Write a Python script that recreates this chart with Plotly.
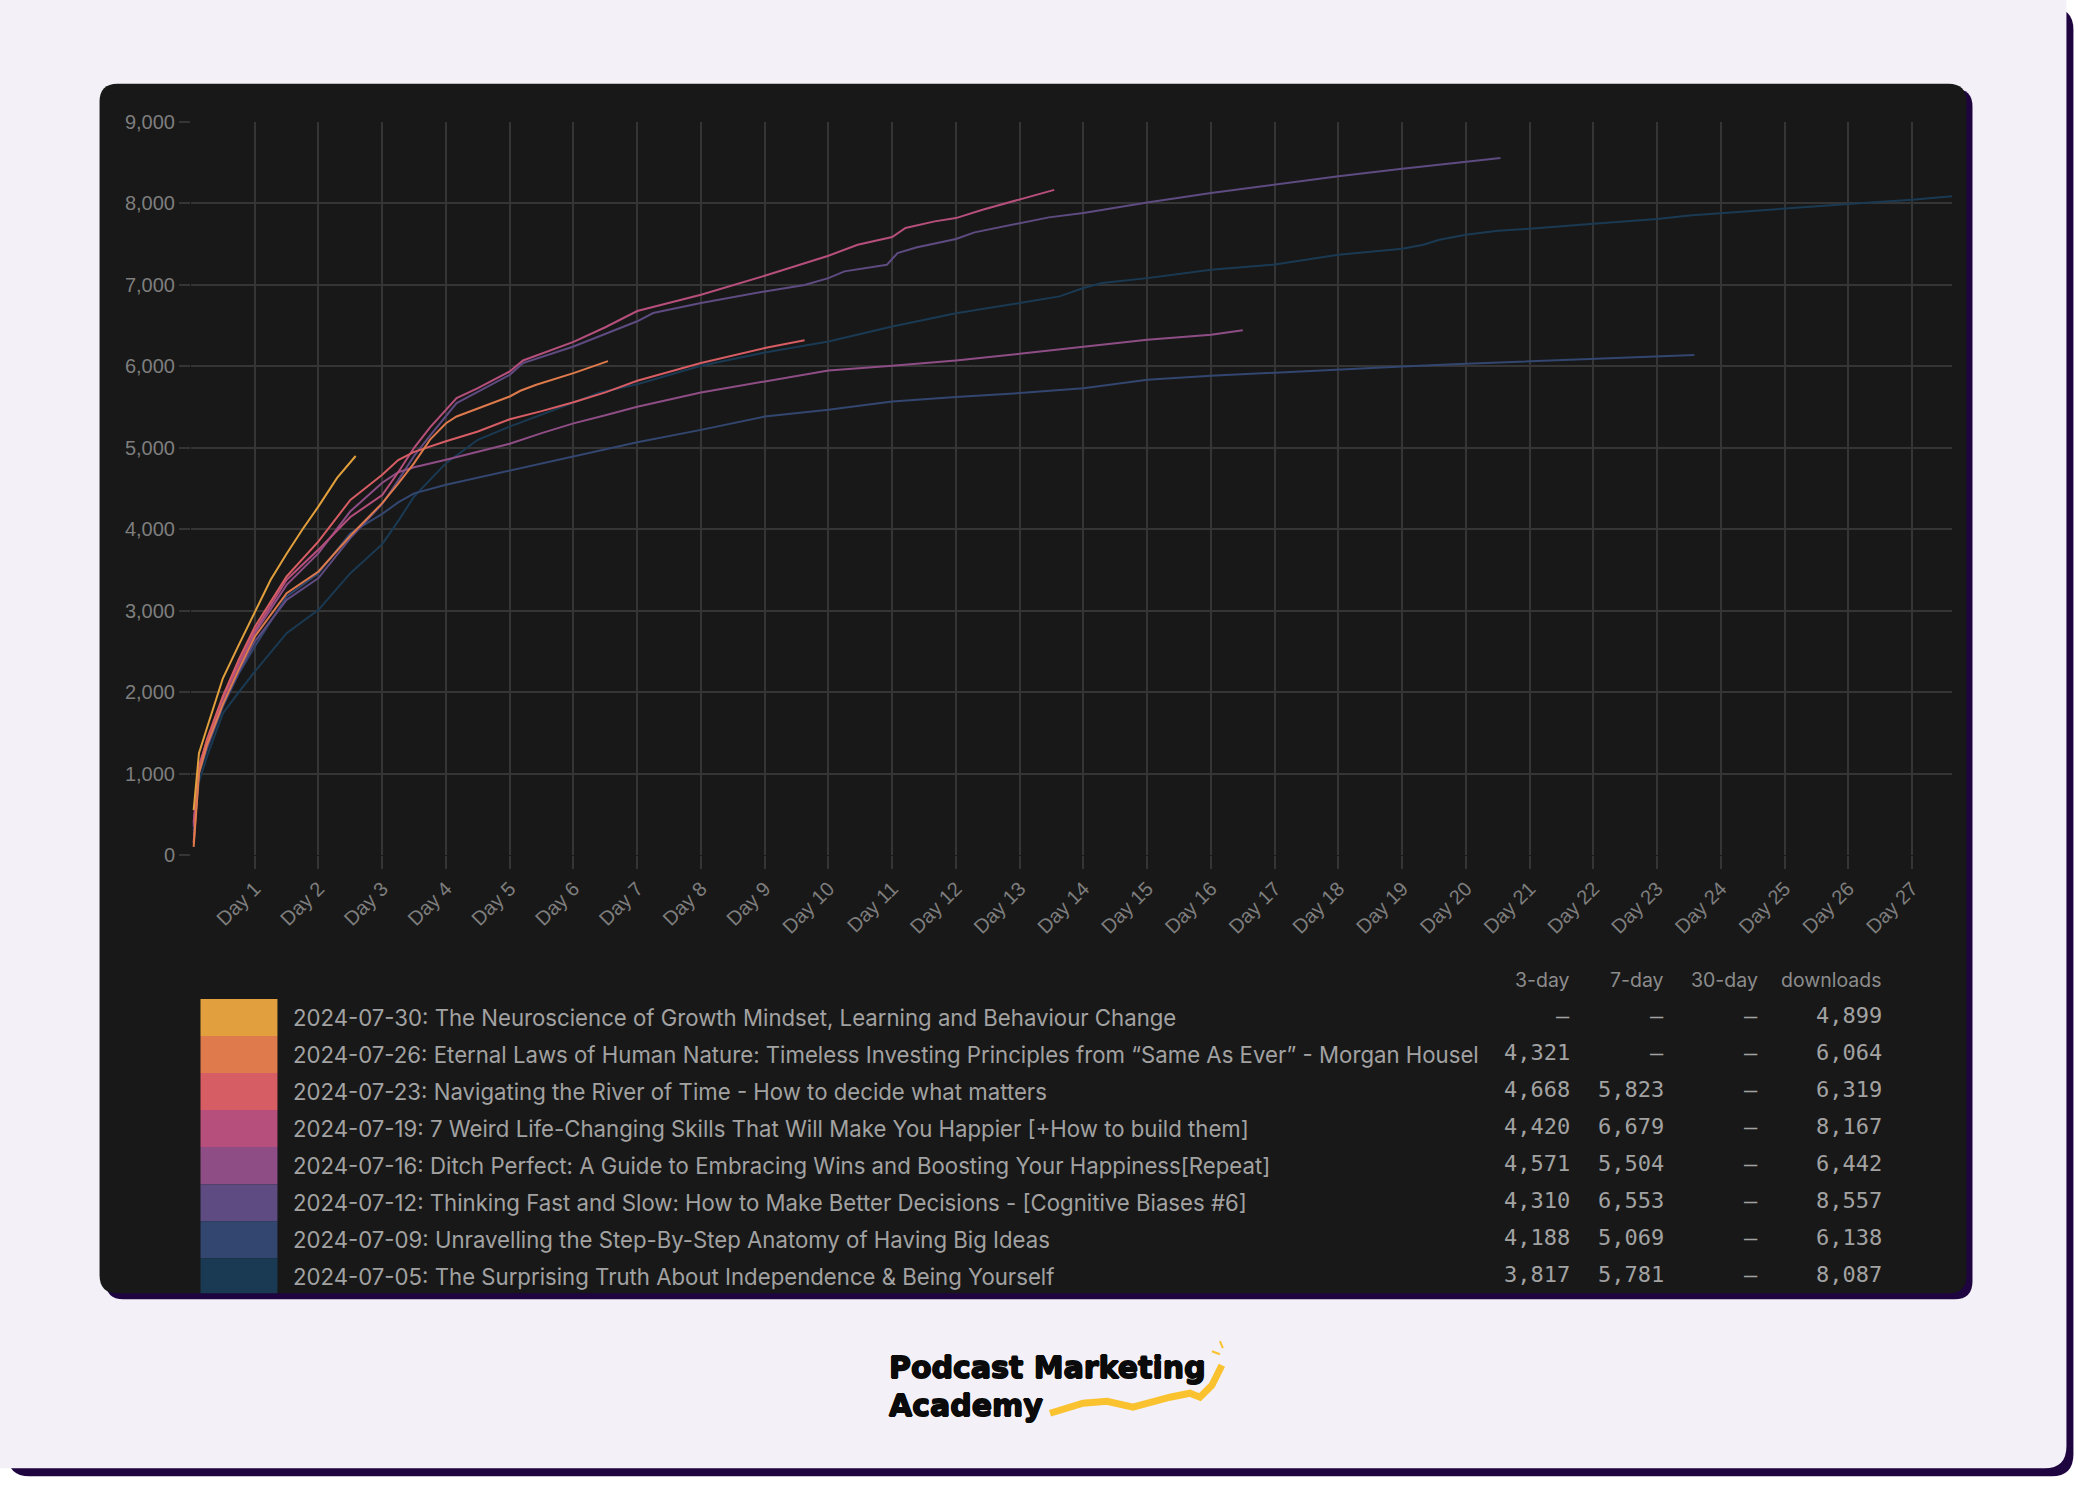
import plotly.graph_objects as go

# ---------------- data ----------------
episode_titles = [
    "2024-07-30: The Neuroscience of Growth Mindset, Learning and Behaviour Change",
    "2024-07-26: Eternal Laws of Human Nature: Timeless Investing Principles from \u201cSame As Ever\u201d - Morgan Housel",
    "2024-07-23: Navigating the River of Time - How to decide what matters",
    "2024-07-19: 7 Weird Life-Changing Skills That Will Make You Happier [+How to build them]",
    "2024-07-16: Ditch Perfect: A Guide to Embracing Wins and Boosting Your Happiness[Repeat]",
    "2024-07-12: Thinking Fast and Slow: How to Make Better Decisions - [Cognitive Biases #6]",
    "2024-07-09: Unravelling the Step-By-Step Anatomy of Having Big Ideas",
    "2024-07-05: The Surprising Truth About Independence & Being Yourself",
]
three_day = [None, 4321, 4668, 4420, 4571, 4310, 4188, 3817]
seven_day = [None, None, 5823, 6679, 5504, 6553, 5069, 5781]
thirty_day = [None, None, None, None, None, None, None, None]
downloads = [4899, 6064, 6319, 8167, 6442, 8557, 6138, 8087]
column_headers = ["3-day", "7-day", "30-day", "downloads"]

hours_0730 = [1, 3, 6, 12, 18, 24, 30, 36, 42, 48, 55, 62]
dl_0730 = [550, 1250, 1560, 2170, 2580, 2990, 3380, 3700, 4000, 4280, 4630, 4899]

hours_0726 = [1, 3, 6, 12, 18, 24, 36, 48, 60, 72, 78, 84, 90, 96, 100, 108, 120, 124, 130, 144, 157]
dl_0726 = [100, 1000, 1350, 1850, 2280, 2680, 3215, 3481, 3920, 4321, 4560, 4811, 5100, 5302, 5384, 5486,
           5630, 5700, 5774, 5917, 6064]

hours_0723 = [1, 3, 6, 12, 18, 24, 36, 48, 60, 72, 78, 84, 96, 108, 120, 132, 144, 156, 168, 192, 216, 231]
dl_0723 = [150, 1050, 1420, 1950, 2400, 2800, 3420, 3850, 4360, 4668, 4850, 4950, 5080, 5200, 5350, 5450,
           5560, 5680, 5823, 6040, 6224, 6319]

hours_0719 = [1, 3, 6, 12, 18, 24, 36, 48, 60, 72, 78, 84, 90, 96, 100, 108, 120, 125, 144, 156, 168, 192,
              216, 240, 251, 264, 269, 280, 288, 298, 312, 325]
dl_0719 = [400, 1100, 1400, 1930, 2350, 2750, 3380, 3750, 4150, 4420, 4700, 5000, 5250, 5466, 5609, 5732,
           5937, 6072, 6300, 6480, 6679, 6879, 7112, 7358, 7493, 7587, 7698, 7780, 7820, 7923, 8046, 8167]

hours_0716 = [1, 3, 6, 12, 18, 24, 36, 48, 60, 72, 78, 84, 96, 108, 120, 132, 144, 156, 168, 192, 216, 240,
              264, 288, 312, 336, 360, 384, 396]
dl_0716 = [350, 1080, 1380, 1900, 2330, 2720, 3317, 3706, 4220, 4571, 4700, 4760, 4852, 4950, 5050, 5180,
           5300, 5400, 5504, 5679, 5814, 5949, 6006, 6072, 6154, 6236, 6326, 6387, 6442]

hours_0712 = [1, 3, 6, 12, 18, 24, 36, 48, 60, 72, 78, 84, 90, 96, 100, 120, 125, 144, 168, 174, 192, 216,
              231, 240, 246, 262, 266, 273, 288, 295, 312, 323, 336, 360, 384, 408, 432, 456, 480, 493]
dl_0712 = [380, 1020, 1320, 1850, 2250, 2620, 3133, 3400, 3890, 4310, 4600, 4900, 5150, 5384, 5548, 5896,
           6040, 6244, 6553, 6654, 6777, 6920, 6998, 7083, 7166, 7247, 7390, 7460, 7563, 7645, 7751, 7829,
           7882, 8013, 8127, 8230, 8335, 8427, 8517, 8557]

hours_0709 = [1, 3, 6, 12, 18, 24, 36, 48, 60, 72, 78, 84, 96, 120, 144, 168, 192, 216, 240, 264, 288, 312,
              336, 360, 384, 408, 432, 456, 480, 504, 528, 552, 566]
dl_0709 = [300, 1000, 1300, 1820, 2230, 2560, 3174, 3460, 3951, 4188, 4330, 4440, 4545, 4721, 4893, 5069,
           5220, 5384, 5466, 5569, 5622, 5672, 5732, 5835, 5884, 5925, 5966, 5998, 6031, 6059, 6088, 6121, 6138]

hours_0705 = [1, 3, 6, 12, 18, 24, 36, 48, 60, 72, 78, 84, 96, 108, 120, 144, 154, 168, 192, 216, 240, 264,
              288, 312, 327, 336, 343, 360, 384, 408, 432, 456, 464, 470, 480, 492, 504, 528, 552, 564, 576,
              600, 624, 648, 663]
dl_0705 = [250, 900, 1207, 1740, 2000, 2252, 2723, 3010, 3460, 3817, 4100, 4402, 4811, 5098, 5260, 5560,
           5679, 5781, 6006, 6170, 6305, 6490, 6653, 6777, 6859, 6961, 7022, 7083, 7186, 7250, 7370, 7444,
           7493, 7555, 7616, 7665, 7690, 7751, 7808, 7853, 7882, 7935, 7992, 8046, 8087]

series_hours = [hours_0730, hours_0726, hours_0723, hours_0719, hours_0716, hours_0712, hours_0709, hours_0705]
series_values = [dl_0730, dl_0726, dl_0723, dl_0719, dl_0716, dl_0712, dl_0709, dl_0705]
series_colors = ["#E1A03D", "#DE7A4B", "#D65D64", "#B64F7B", "#8E4D85", "#5E4B81", "#32466F", "#1A3A53"]

day_tick_hours = [24 * d for d in range(1, 28)]
day_tick_labels = [f"Day {d}" for d in range(1, 28)]
y_ticks = list(range(0, 9001, 1000))

# ---------------- layout geometry (pixels) ----------------
W, H = 2078, 1489
PL, PR, PT, PB = 190.5, 1952.5, 122.3, 855.0
PW, PH = PR - PL, PB - PT


def fx(px):
    return (px - PL) / PW


def fy(py):
    return (PB - py) / PH


def rrect(x0, y0, x1, y1, r):
    pts = [
        f"M{fx(x0 + r)},{fy(y0)}", f"L{fx(x1 - r)},{fy(y0)}", f"Q{fx(x1)},{fy(y0)} {fx(x1)},{fy(y0 + r)}",
        f"L{fx(x1)},{fy(y1 - r)}", f"Q{fx(x1)},{fy(y1)} {fx(x1 - r)},{fy(y1)}",
        f"L{fx(x0 + r)},{fy(y1)}", f"Q{fx(x0)},{fy(y1)} {fx(x0)},{fy(y1 - r)}",
        f"L{fx(x0)},{fy(y0 + r)}", f"Q{fx(x0)},{fy(y0)} {fx(x0 + r)},{fy(y0)}", "Z",
    ]
    return " ".join(pts)


SHADOW = "#1F0540"
shapes = [
    dict(type="path", xref="paper", yref="paper", path=rrect(7, 8, 2074, 1476, 22),
         fillcolor=SHADOW, line=dict(width=0), layer="below"),
    dict(type="path", xref="paper", yref="paper", path=rrect(-30, -30, 2067, 1468, 22),
         fillcolor="#F3F1F7", line=dict(width=0), layer="below"),
    dict(type="path", xref="paper", yref="paper", path=rrect(105, 89, 1973, 1299, 18),
         fillcolor=SHADOW, line=dict(width=0), layer="below"),
    dict(type="path", xref="paper", yref="paper", path=rrect(99, 84, 1967, 1293, 18),
         fillcolor="#181818", line=dict(width=0), layer="below"),
]

# legend swatches
ROW0, ROWH = 999.0, 37.0
for i, col in enumerate(series_colors):
    top = ROW0 + i * ROWH
    bot = min(top + ROWH, 1293)
    shapes.append(dict(type="rect", xref="paper", yref="paper", x0=fx(200), x1=fx(277), y0=fy(bot), y1=fy(top),
                       fillcolor=col, line=dict(width=0), layer="below"))

# logo squiggle
sq = [(1050, 1413), (1083, 1403), (1107, 1401), (1133, 1407), (1170, 1397), (1190, 1393), (1200, 1397),
      (1212, 1385), (1222, 1365)]
shapes.append(dict(type="path", xref="paper", yref="paper",
                   path="M" + " L".join(f"{fx(a)},{fy(b)}" for a, b in sq),
                   line=dict(color="#F9C22E", width=7), layer="above"))
shapes.append(dict(type="line", xref="paper", yref="paper", x0=fx(1212), y0=fy(1351), x1=fx(1220), y1=fy(1354),
                   line=dict(color="#F9C22E", width=2), layer="above"))
shapes.append(dict(type="line", xref="paper", yref="paper", x0=fx(1220), y0=fy(1341), x1=fx(1223), y1=fy(1348),
                   line=dict(color="#F9C22E", width=2), layer="above"))

# ---------------- annotations ----------------
annotations = []


def ann(text, px, py, xanchor, size, color, family, weight=None, shadow=None):
    font = dict(size=size, color=color, family=family)
    if weight:
        font["weight"] = weight
    if shadow:
        font["shadow"] = shadow
    annotations.append(dict(text=text, x=fx(px), y=fy(py), xref="paper", yref="paper", xanchor=xanchor,
                            yanchor="middle", showarrow=False, font=font))


SANS = "Inter, Roboto, 'Noto Sans', sans-serif"
MONO = "'DejaVu Sans Mono', monospace"
col_right = [1572, 1666, 1760, 1884]
for j, h in enumerate(column_headers):
    ann(h, col_right[j], 980, "right", 19.5, "#8C8C8C", SANS)


def fmt(v):
    return "\u2013" if v is None else f"{v:,}"


for i, title in enumerate(episode_titles):
    cy = ROW0 + ROWH * i + ROWH / 2
    ann(title, 291, cy, "left", 22.2, "#A2A2A2", SANS)
    for j, arr in enumerate([three_day, seven_day, thirty_day, downloads]):
        ann(fmt(arr[i]), col_right[j], cy - 2, "right", 22, "#A2A2A2", MONO)

LOGO_FONT = "'DejaVu Sans', sans-serif"
thick = "0.8px 0 0 #0B0B0B, -0.8px 0 0 #0B0B0B, 0 0.8px 0 #0B0B0B, 0 -0.8px 0 #0B0B0B"
ann("Podcast Marketing", 887, 1367, "left", 30, "#0B0B0B", LOGO_FONT, "bold", thick)
ann("Academy", 887, 1405, "left", 30, "#0B0B0B", LOGO_FONT, "bold", thick)

# ---------------- figure ----------------
fig = go.Figure()
for hrs, vals, col, title in zip(series_hours[::-1], series_values[::-1], series_colors[::-1], episode_titles[::-1]):
    fig.add_trace(go.Scatter(x=hrs, y=vals, mode="lines", name=title[:10],
                             line=dict(color=col, width=2), showlegend=False))

GRID = "#353535"
TICKFONT = dict(family="'Liberation Sans', Arial, sans-serif", size=20, color="#7E7E7E")
fig.update_layout(
    width=W, height=H, autosize=False,
    margin=dict(l=PL, r=W - PR, t=PT, b=H - PB, pad=0, autoexpand=False),
    paper_bgcolor="#FFFFFF", plot_bgcolor="rgba(0,0,0,0)",
    showlegend=False, shapes=shapes, annotations=annotations,
    xaxis=dict(range=[0, 663], tickvals=day_tick_hours, ticktext=day_tick_labels, tickangle=-45,
               showgrid=True, gridcolor=GRID, gridwidth=1.5, zeroline=False, showline=False,
               ticks="outside", ticklen=13, tickwidth=1.5, tickcolor=GRID, tickfont=TICKFONT),
    yaxis=dict(range=[0, 9000], tickvals=y_ticks, tickformat=",", showgrid=True, gridcolor=GRID,
               gridwidth=1.5, zeroline=False, showline=False, ticks="outside", ticklen=11, tickwidth=1.5,
               tickcolor=GRID, tickfont=TICKFONT),
)

fig.write_html("out.html", config={"displayModeBar": False},
               post_script="document.body.style.margin='0';document.body.style.overflow='hidden';")
